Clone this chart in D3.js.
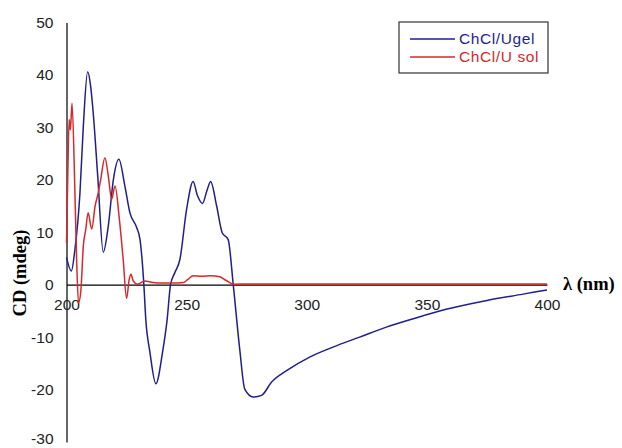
<!DOCTYPE html>
<html>
<head>
<meta charset="utf-8">
<script src="https://cdn.jsdelivr.net/npm/d3@7"></script>
<style>
  body { margin: 0; background: #fff; }
  text { font-family: "Liberation Sans", Arial, sans-serif; }
</style>
</head>
<body>
<div class="chart"></div>
<script>
// CD spectra: wavelength (nm) and CD (mdeg)
var gelWave = [200, 202, 203.5, 205.6, 207, 208.8, 210, 211, 213, 215.3, 217.4, 219.5, 221.8, 224.3, 226.4,
  229.2, 230.6, 232.2, 233, 234.7, 237.2, 240, 241.9, 243.3, 245.1, 247.2, 250, 252.7, 254.5, 256.6, 258.5,
  260, 262.5, 264.8, 267.3, 269.4, 272.1, 274.2, 277.7, 281.2, 285.3, 291.6, 301.2, 310.9, 322, 333.1, 345,
  358, 375, 390, 400];
var gelCD = [5.2, 2.6, 6.7, 17.5, 30.2, 40.6, 38, 33.4, 20.7, 6.2, 11.2, 20, 23.9, 18.8, 13.7,
  10.9, 8.6, 0, -6.6, -12.8, -18.9, -12.8, -6.6, 0, 2.3, 4.8, 14.4, 19.7, 17, 15.5, 18,
  19.7, 15, 9.9, 8.6, 0, -12.3, -19.9, -21.4, -21.1, -18.6, -16.4, -13.8, -11.9, -10.0, -8.1, -6.4,
  -4.7, -3.0, -1.8, -1.0];

var solWave = [200, 200.5, 201.1, 201.6, 202.3, 203.5, 204.2, 205, 206, 207, 208, 209, 210.5, 211.9, 213.2,
  214.2, 216, 217.4, 218.8, 220.2, 222, 223.6, 225, 226.1, 226.8, 227.8, 229.5, 232.6, 236, 240, 244,
  248.6, 250.5, 252.7, 256, 260, 263.8, 266.5, 269.4, 275, 290, 310, 330, 350, 370, 390, 400];
var solCD = [8, 20, 31.5, 29.5, 34.6, 17.6, 5, -3.5, -1, 7.4, 10.5, 13.7, 10.6, 15, 17.5,
  20, 24.2, 20.7, 16.3, 18.8, 12.5, 4.8, -2.6, 1.0, 2.0, 0.7, 0.1, 0.7, 0.4, 0.3, 0.3,
  0.4, 1.0, 1.7, 1.6, 1.7, 1.5, 0.8, 0.1, 0.15, 0.15, 0.15, 0.15, 0.15, 0.15, 0.15, 0.15];

var xTicks = [200, 250, 300, 350, 400];
var yTicks = [-30, -20, -10, 0, 10, 20, 30, 40, 50];
var seriesNames = ["ChCl/Ugel", "ChCl/U sol"];

var width = 622,
  height = 448,
  colors = ["#1f1f8c", "#d42a2a"];

var svg = d3.select(".chart")
  .append("svg")
  .attr("width", width)
  .attr("height", height);

var x = d3.scaleLinear().domain([200, 400]).range([66.5, 547]);
var y = d3.scaleLinear().domain([-30, 50]).range([442, 22.5]);

// Y axis at lambda = 200, plain hyphen minus like the original
var yAxis = d3.axisLeft(y).tickValues(yTicks).tickSize(0).tickPadding(13)
  .tickFormat(d => String(d));
var gy = svg.append("g")
  .attr("transform", `translate(${x(200)},0)`)
  .call(yAxis);
gy.selectAll("text").style("font-size", "15.5px").attr("fill", "#222");
// bottom label sits right at the page edge; lift it just enough to stay inside
gy.selectAll(".tick text").filter(d => d === -30).attr("y", -3.5);

// X axis along CD = 0
var xAxis = d3.axisBottom(x).tickValues(xTicks).tickSize(0).tickPadding(14);
var gx = svg.append("g")
  .attr("transform", `translate(0,${y(0)})`)
  .call(xAxis);
gx.selectAll("text").style("font-size", "15.5px").attr("fill", "#222");

svg.selectAll(".domain").attr("stroke", "#000").attr("stroke-width", 1.2);

var line = d3.line()
  .x(d => x(d[0]))
  .y(d => y(d[1]))
  .curve(d3.curveMonotoneX);

svg.append("path")
  .datum(d3.zip(gelWave, gelCD))
  .attr("fill", "none")
  .attr("stroke", colors[0])
  .attr("stroke-width", 1.5)
  .attr("d", line);

svg.append("path")
  .datum(d3.zip(solWave, solCD))
  .attr("fill", "none")
  .attr("stroke", colors[1])
  .attr("stroke-width", 1.5)
  .attr("d", line);

// axis titles
svg.append("text")
  .attr("text-anchor", "middle")
  .attr("transform", "translate(26,273)rotate(-90)")
  .style("font-family", "'Liberation Serif', 'Times New Roman', serif")
  .style("font-weight", "bold")
  .style("font-size", "18.5px")
  .text("CD (mdeg)");

svg.append("text")
  .attr("x", 563)
  .attr("y", 290)
  .style("font-family", "'Liberation Serif', 'Times New Roman', serif")
  .style("font-weight", "bold")
  .style("font-size", "18.5px")
  .text("λ (nm)");

// legend
var legend = svg.append("g").attr("transform", "translate(399,22)");
legend.append("rect")
  .attr("width", 149)
  .attr("height", 51)
  .attr("fill", "#fff")
  .attr("stroke", "#333")
  .attr("stroke-width", 1.2);

var item = legend.selectAll(".legend")
  .data(seriesNames)
  .enter().append("g")
  .attr("class", "legend")
  .attr("transform", (d, i) => `translate(0,${17 + i * 18})`);

item.append("line")
  .attr("x1", 11)
  .attr("x2", 56)
  .attr("stroke", (d, i) => colors[i])
  .attr("stroke-width", 1.5);

item.append("text")
  .attr("x", 60)
  .attr("y", 5)
  .attr("fill", (d, i) => colors[i])
  .style("font-size", "15.5px")
  .style("letter-spacing", "0.6px")
  .text(d => d);
</script>
</body>
</html>
